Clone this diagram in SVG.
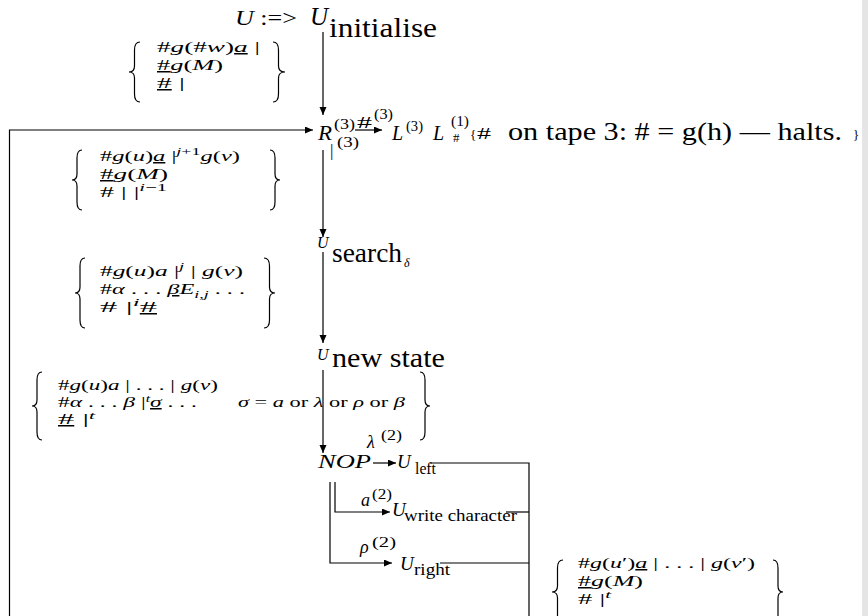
<svg xmlns="http://www.w3.org/2000/svg" width="868" height="616" viewBox="0 0 868 616">
<style>
text { font-family: "Liberation Serif", "DejaVu Serif", serif; fill: #000; }
.i { font-style: italic; }
.u { text-decoration: underline; }
.m { font-size: 15px; }
.s { font-size: 11px; }
.t { font-size: 10px; }
.ln { stroke: #000; stroke-width: 1.2; fill: none; }
.br { stroke: #000; stroke-width: 1.2; fill: none; }
</style>
<defs>
<marker id="ah" markerWidth="9" markerHeight="8" refX="8" refY="3.5" orient="auto" markerUnits="userSpaceOnUse">
<path d="M0,0 L8,3.5 L0,7 Z" fill="#000" stroke="none"/>
</marker>
</defs>
<rect width="868" height="616" fill="#fff"/>
<rect x="862" y="0" width="6" height="616" fill="#e5e5e5"/>

<g id="connectors" class="ln">
<path d="M323,32 V115" marker-end="url(#ah)"/>
<path d="M9.5,616 V130 H313" marker-end="url(#ah)"/>
<path d="M355,130 H382" marker-end="url(#ah)"/>
<path d="M323,150 V237" marker-end="url(#ah)"/>
<path d="M323,252 V343" marker-end="url(#ah)"/>
<path d="M323,370 V453" marker-end="url(#ah)"/>
<path d="M373,463 H396" marker-end="url(#ah)"/>
<path d="M430,463 H529 V616"/>
<path d="M335,482 V512 H390" marker-end="url(#ah)"/>
<path d="M506,512 H529"/>
<path d="M330,482 V563 H392" marker-end="url(#ah)"/>
<path d="M440,563 H529"/>
</g>

<g id="edge-labels">
<text x="357" y="128" font-size="17" textLength="15" lengthAdjust="spacingAndGlyphs">#</text>
<text x="374" y="119" font-size="14" textLength="19" lengthAdjust="spacingAndGlyphs">(3)</text>
<text x="367" y="448" font-size="18" class="i">λ</text>
<text x="381" y="440" font-size="14" textLength="21" lengthAdjust="spacingAndGlyphs">(2)</text>
<text x="361" y="506" font-size="18" class="i">a</text>
<text x="372" y="499" font-size="14" textLength="20" lengthAdjust="spacingAndGlyphs">(2)</text>
<text x="360" y="553" font-size="18" class="i">ρ</text>
<text x="372" y="547" font-size="14" textLength="24" lengthAdjust="spacingAndGlyphs">(2)</text>
</g>

<g id="n-initialise">
<text x="235" y="25" font-size="21" textLength="62" lengthAdjust="spacingAndGlyphs"><tspan class="i">U</tspan> :=&gt;</text>
<text x="310" y="25" font-size="25" class="i">U</text>
<text x="329" y="37" font-size="27" textLength="108" lengthAdjust="spacingAndGlyphs">initialise</text>
</g>

<g id="n-R">
<text x="318" y="140" font-size="20" class="i" textLength="14" lengthAdjust="spacingAndGlyphs">R</text>
<text x="334" y="129" font-size="14" textLength="21" lengthAdjust="spacingAndGlyphs">(3)</text>
<text x="330" y="156" font-size="17">|</text>
<text x="337" y="147" font-size="14" textLength="22" lengthAdjust="spacingAndGlyphs">(3)</text>
</g>

<g id="n-L">
<text x="392" y="140" font-size="20" class="i">L</text>
<text x="406" y="131" font-size="14" textLength="17" lengthAdjust="spacingAndGlyphs">(3)</text>
<text x="433" y="140" font-size="20" class="i">L</text>
<text x="451" y="126" font-size="14" textLength="18" lengthAdjust="spacingAndGlyphs">(1)</text>
<text x="453" y="142" font-size="13">#</text>
<text x="470" y="139" font-size="13">{</text>
<text x="477" y="139" font-size="17" textLength="14" lengthAdjust="spacingAndGlyphs">#</text>
<text x="508" y="140" font-size="26" textLength="334" lengthAdjust="spacingAndGlyphs">on tape 3: # = g(h) — halts.</text>
<text x="853" y="139" font-size="13">}</text>
</g>

<g id="n-search">
<text x="317" y="248" font-size="16" class="i">U</text>
<text x="332" y="262" font-size="27" textLength="70" lengthAdjust="spacingAndGlyphs">search</text>
<text x="404" y="267" font-size="12" class="i">δ</text>
</g>

<g id="n-newstate">
<text x="317" y="360" font-size="16" class="i">U</text>
<text x="332" y="367" font-size="27" textLength="113" lengthAdjust="spacingAndGlyphs">new state</text>
</g>

<g id="n-NOP">
<text x="318" y="468" font-size="19" class="i" textLength="53" lengthAdjust="spacingAndGlyphs">NOP</text>
</g>

<g id="n-left">
<text x="397" y="468" font-size="19" class="i">U</text>
<text x="415" y="474" font-size="17" textLength="21" lengthAdjust="spacingAndGlyphs">left</text>
</g>

<g id="n-write">
<text x="392" y="516" font-size="19" class="i">U</text>
<text x="404" y="521" font-size="17" textLength="113" lengthAdjust="spacingAndGlyphs">write character</text>
</g>

<g id="n-right">
<text x="400" y="570" font-size="19" class="i">U</text>
<text x="414" y="575" font-size="17" textLength="36" lengthAdjust="spacingAndGlyphs">right</text>
</g>

<g id="state-1">
<path class="br" d="M140,42 Q134.5,42 134.5,50 L134.5,66 Q134.5,72 129,72 Q134.5,72 134.5,78 L134.5,94 Q134.5,102 140,102"/>
<path class="br" d="M273,42 Q278.5,42 278.5,50 L278.5,66 Q278.5,72 285,72 Q278.5,72 278.5,78 L278.5,94 Q278.5,102 273,102"/>
<text x="157" y="52" class="m" textLength="103" lengthAdjust="spacingAndGlyphs">#<tspan class="i">g</tspan>(#<tspan class="i">w</tspan>)<tspan class="i u">a</tspan> |</text>
<text x="157" y="70" class="m" textLength="66" lengthAdjust="spacingAndGlyphs"><tspan class="u">#</tspan><tspan class="i">g</tspan>(<tspan class="i">M</tspan>)</text>
<text x="157" y="88" class="m" textLength="28" lengthAdjust="spacingAndGlyphs"><tspan class="u">#</tspan> |</text>
</g>

<g id="state-2">
<path class="br" d="M82,150 Q77,150 77,158 L77,174 Q77,180 72,180 Q77,180 77,186 L77,202 Q77,210 82,210"/>
<path class="br" d="M270,150 Q275,150 275,158 L275,174 Q275,180 280,180 Q275,180 275,186 L275,202 Q275,210 270,210"/>
<text x="100" y="161" class="m" textLength="140" lengthAdjust="spacingAndGlyphs">#<tspan class="i">g</tspan>(<tspan class="i">u</tspan>)<tspan class="i u">a</tspan> |<tspan class="s" dy="-6"><tspan class="i">j</tspan>+1</tspan><tspan class="i" dy="6">g</tspan>(<tspan class="i">v</tspan>)</text>
<text x="100" y="179" class="m" textLength="68" lengthAdjust="spacingAndGlyphs"><tspan class="u">#</tspan><tspan class="i">g</tspan>(<tspan class="i">M</tspan>)</text>
<text x="100" y="197" class="m" textLength="67" lengthAdjust="spacingAndGlyphs"># <tspan class="u">|</tspan> |<tspan class="s" dy="-6"><tspan class="i">i</tspan>−1</tspan></text>
</g>

<g id="state-3">
<path class="br" d="M85,258 Q80,258 80,266 L80,287 Q80,293 75,293 Q80,293 80,299 L80,320 Q80,328 85,328"/>
<path class="br" d="M264,258 Q269.5,258 269.5,266 L269.5,287 Q269.5,293 275,293 Q269.5,293 269.5,299 L269.5,320 Q269.5,328 264,328"/>
<text x="100" y="276" class="m" textLength="143" lengthAdjust="spacingAndGlyphs">#<tspan class="i">g</tspan>(<tspan class="i">u</tspan>)<tspan class="i">a</tspan> |<tspan class="s i" dy="-6">j</tspan><tspan dy="6"> </tspan><tspan class="u">|</tspan> <tspan class="i">g</tspan>(<tspan class="i">v</tspan>)</text>
<text x="100" y="294" class="m" textLength="145" lengthAdjust="spacingAndGlyphs">#<tspan class="i">α</tspan> . . . <tspan class="i u">β</tspan><tspan class="i">E</tspan><tspan class="s i" dy="4">i,j</tspan><tspan dy="-4"> . . .</tspan></text>
<text x="100" y="312" class="m" textLength="57" lengthAdjust="spacingAndGlyphs"># |<tspan class="s i" dy="-6">i</tspan><tspan class="u" dy="6">#</tspan></text>
</g>

<g id="state-4">
<path class="br" d="M42,372 Q37,372 37,380 L37,400 Q37,406 32,406 Q37,406 37,412 L37,432 Q37,440 42,440"/>
<path class="br" d="M420,372 Q425,372 425,380 L425,400 Q425,406 430,406 Q425,406 425,412 L425,432 Q425,440 420,440"/>
<text x="58" y="390" class="m" textLength="160" lengthAdjust="spacingAndGlyphs">#<tspan class="i">g</tspan>(<tspan class="i">u</tspan>)<tspan class="i">a</tspan> | . . . <tspan class="u">|</tspan> <tspan class="i">g</tspan>(<tspan class="i">v</tspan>)</text>
<text x="58" y="407" class="m" textLength="139" lengthAdjust="spacingAndGlyphs">#<tspan class="i">α</tspan> . . . <tspan class="i">β</tspan> |<tspan class="t i" dy="-5">t</tspan><tspan class="i u" dy="5">σ</tspan> . . .</text>
<text x="238" y="407" class="m" textLength="167" lengthAdjust="spacingAndGlyphs"><tspan class="i">σ</tspan> = <tspan class="i">a</tspan> or <tspan class="i">λ</tspan> or <tspan class="i">ρ</tspan> or <tspan class="i">β</tspan></text>
<text x="58" y="424" class="m" textLength="37" lengthAdjust="spacingAndGlyphs"><tspan class="u">#</tspan> |<tspan class="t i" dy="-5">t</tspan></text>
</g>

<g id="state-5">
<path class="br" d="M563,560 Q557.5,560 557.5,568 L557.5,586 Q557.5,592 552,592 Q557.5,592 557.5,598 L557.5,616 Q557.5,624 563,624"/>
<path class="br" d="M773,560 Q778,560 778,568 L778,586 Q778,592 783,592 Q778,592 778,598 L778,616 Q778,624 773,624"/>
<text x="578" y="568" class="m" textLength="177" lengthAdjust="spacingAndGlyphs">#<tspan class="i">g</tspan>(<tspan class="i">u</tspan>′)<tspan class="i u">a</tspan> | . . . | <tspan class="i">g</tspan>(<tspan class="i">v</tspan>′)</text>
<text x="578" y="586" class="m" textLength="65" lengthAdjust="spacingAndGlyphs"><tspan class="u">#</tspan><tspan class="i">g</tspan>(<tspan class="i">M</tspan>)</text>
<text x="578" y="604" class="m" textLength="33" lengthAdjust="spacingAndGlyphs"># |<tspan class="s i" dy="-6">t</tspan></text>
</g>
</svg>
